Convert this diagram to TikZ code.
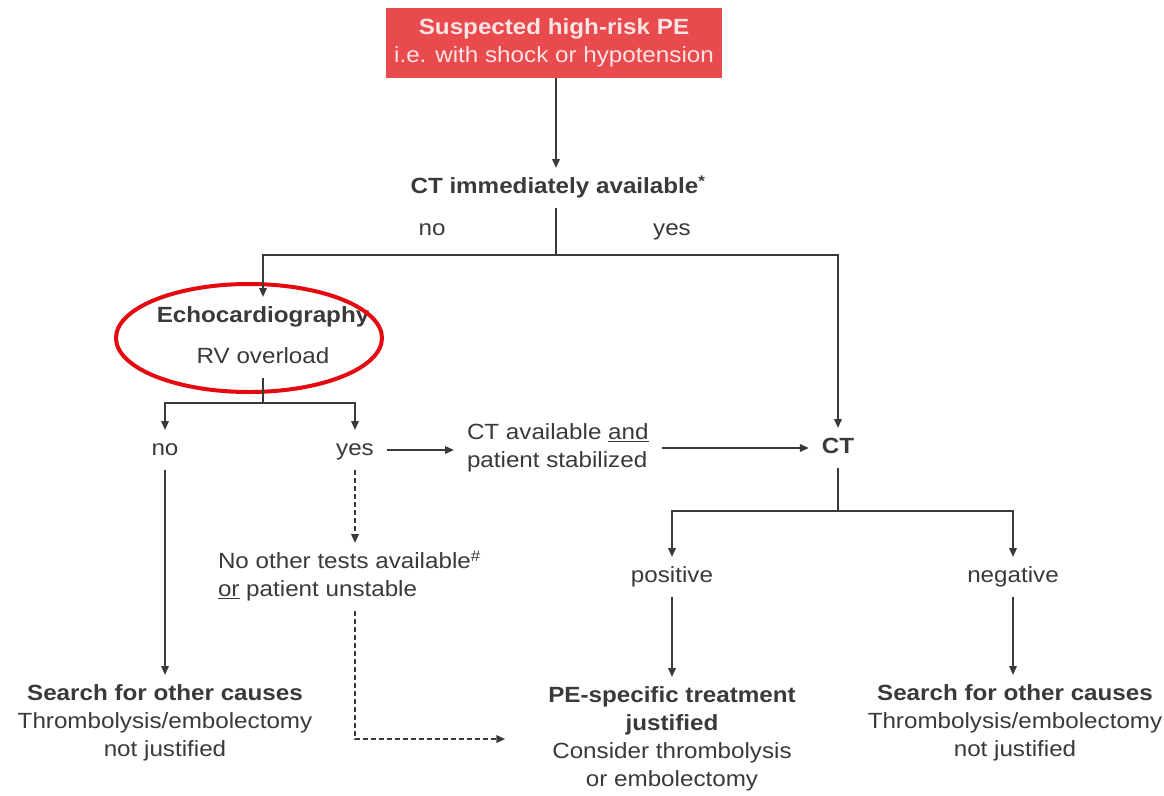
\documentclass[tikz,border=0pt]{standalone}
\usepackage{fontspec}
\setmainfont[FakeStretch=1.1]{Liberation Sans}
\usetikzlibrary{arrows.meta}
\definecolor{boxred}{RGB}{232,74,78}
\definecolor{boxtext}{RGB}{252,228,228}
\definecolor{ink}{RGB}{58,58,58}
\definecolor{ringred}{RGB}{228,10,16}
\tikzset{
  txt/.style={inner sep=0pt, outer xsep=13pt, outer ysep=6pt, align=center, text=ink,
    font=\fontsize{22}{28}\selectfont},
  conn/.style={draw=ink, line width=1.9pt},
  arr/.style={conn, -{Triangle[length=9pt,width=7.5pt]}},
  darr/.style={arr, dash pattern=on 5pt off 3pt},
}
\newcommand{\sx}{\strut}
\begin{document}
\begin{tikzpicture}[x=1pt,y=-1pt]
\useasboundingbox (0,0) rectangle (1164,795);
\fill[white] (0,0) rectangle (1164,795);

% nodes
\node[fill=boxred, text=boxtext, minimum width=336pt, minimum height=70pt, inner sep=0pt,
  align=center, font=\fontsize{22}{28}\selectfont] (top) at (554,43)
  {\textbf{Suspected high-risk PE}\\i.e. with shock or hypotension};
\node[txt, font=\fontsize{22}{28}\selectfont\bfseries] (ctimm) at (558,188) {\sx CT immediately available\textsuperscript{*}};
\node[txt] (no1) at (432,230) {\sx no};
\node[txt] (yes1) at (672,230) {\sx yes};
\coordinate (fork0) at (556,255);

\node[txt, font=\fontsize{22}{28}\selectfont\bfseries] (echo) at (263,317) {\sx Echocardiography};
\node[txt] (rv) at (263,358) {\sx RV overload};
\coordinate (fork1) at (263,403);
\node[txt] (no2) at (165,450) {\sx no};
\node[txt] (yes2) at (355,450) {\sx yes};
\node[txt, anchor=west, align=left] (ctav) at (454,448) {\sx CT available \underline{and}\\\sx patient stabilized};
\node[txt, font=\fontsize{22}{28}\selectfont\bfseries] (ct) at (838,448) {\sx CT};
\coordinate (fork2) at (838,511);
\node[txt] (pos) at (672,577) {\sx positive};
\node[txt] (neg) at (1013,577) {\sx negative};
\node[txt, anchor=west, align=left] (notest) at (205,577) {\sx No other tests available\textsuperscript{\#}\\\sx \underline{or} patient unstable};

\node[txt] (srchL) at (165,723) {\sx\textbf{Search for other causes}\\\sx Thrombolysis/embolectomy\\\sx not justified};
\node[txt] (pe) at (672,739) {\sx\textbf{PE-specific treatment}\\\sx\textbf{justified}\\\sx Consider thrombolysis\\\sx or embolectomy};
\node[txt] (srchR) at (1015,723) {\sx\textbf{Search for other causes}\\\sx Thrombolysis/embolectomy\\\sx not justified};

% ring annotation
\draw[ringred, line width=4pt] (249,338) ellipse [x radius=133pt, y radius=54pt];

% connectors
\draw[arr] (top.south -| fork0) -- (fork0 |- ctimm.north);
\draw[conn] (fork0 |- ctimm.south) -- (fork0);
\draw[arr] (fork0) -| (echo.north);
\draw[arr] (fork0) -| (ct.north);
\draw[conn] (rv.south) -- (fork1);
\draw[arr] (fork1) -| (no2.north);
\draw[arr] (fork1) -| (yes2.north);
\draw[arr] (yes2.east) -- (ctav.west |- yes2.east);
\draw[arr] (ctav.east |- ct.west) -- (ct.west);
\draw[conn] (ct.south) -- (fork2);
\draw[arr] (fork2) -| (pos.north);
\draw[arr] (fork2) -| (neg.north);
\draw[arr] (pos.south) -- (pe.north);
\draw[arr] (neg.south) -- (neg.south |- srchR.north);
\draw[arr] (no2.south) -- (srchL.north);
\draw[darr] (yes2.south) -- (yes2.south |- notest.north);
\draw[darr] (yes2.south |- notest.south) |- ([xshift=-30pt]pe.west);
\end{tikzpicture}
\end{document}
